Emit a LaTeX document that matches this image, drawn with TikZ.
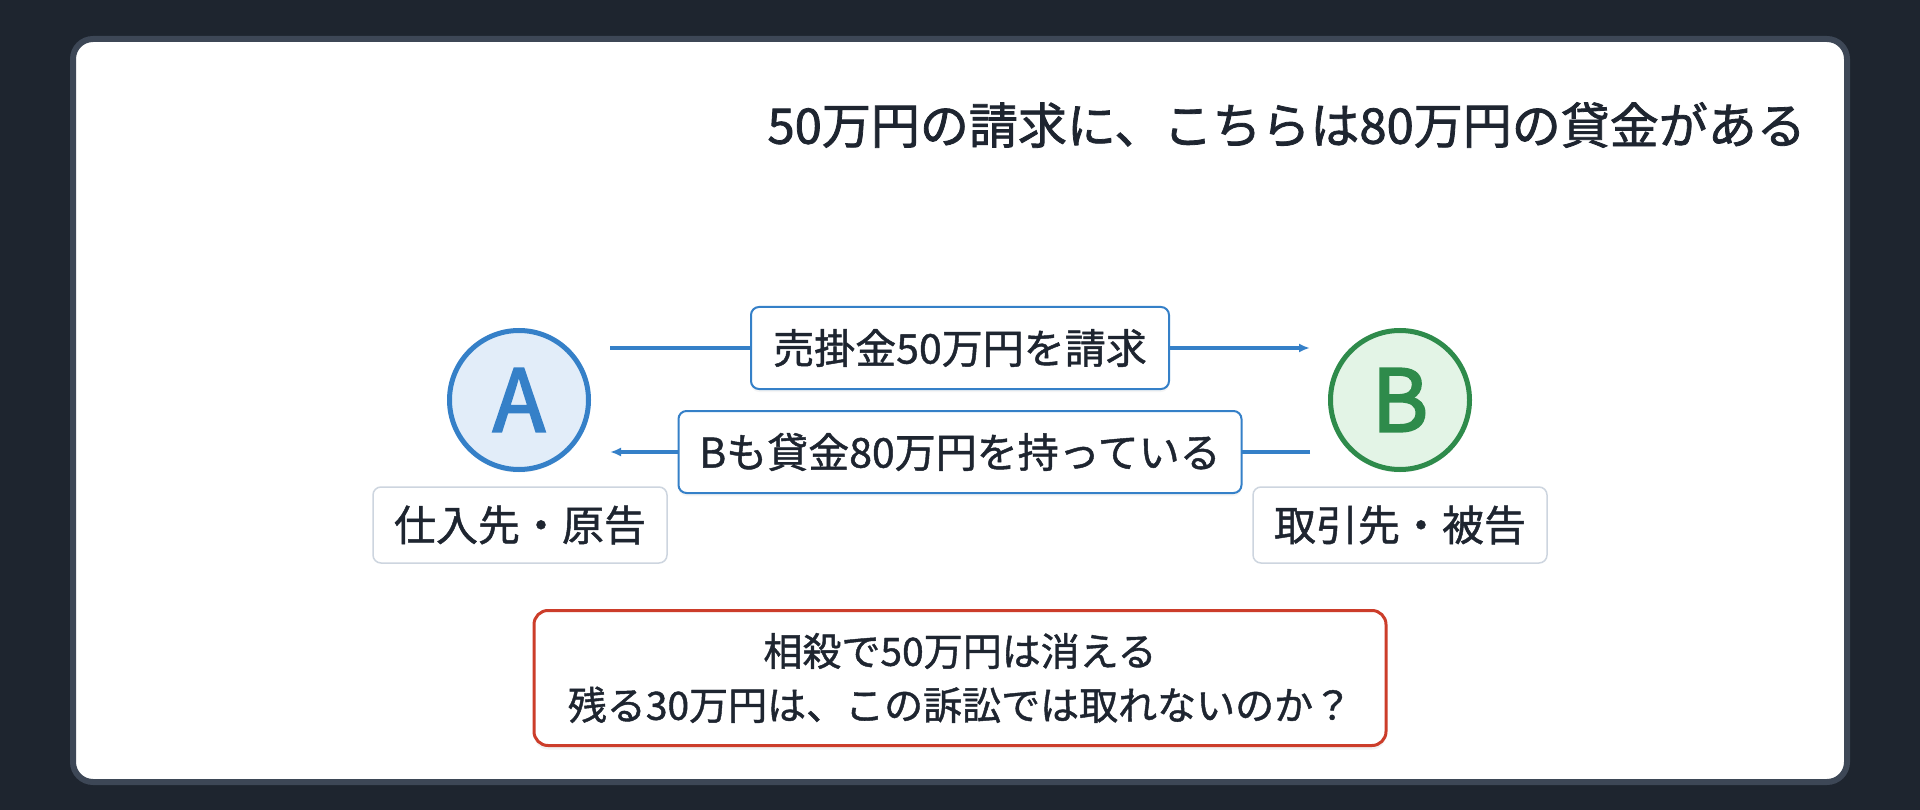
\documentclass[tikz,border=0pt]{standalone}
\usepackage{fontspec}
\setmainfont{Noto Sans CJK JP}[FakeBold=1.1]
\newfontfamily\heavy{Noto Sans CJK JP}[FakeBold=1.6]
\newfontfamily\letter{Noto Sans CJK JP}[FakeBold=2.6]
\usetikzlibrary{arrows.meta,shadows}
\definecolor{bgc}{HTML}{1E252F}
\definecolor{cardb}{HTML}{3D4756}
\definecolor{bluec}{HTML}{3580C8}
\definecolor{afill}{HTML}{E2EDF9}
\definecolor{greenc}{HTML}{2E8B4B}
\definecolor{bfill}{HTML}{E3F4E6}
\definecolor{redc}{HTML}{CC3D2A}
\definecolor{grayb}{HTML}{CDD5DF}
\definecolor{txt}{HTML}{1E2530}
\tikzset{
  party/.style={circle, inner sep=0pt, minimum size=139pt, line width=5pt,
    font=\letter\fontsize{86}{86}\selectfont, drop shadow={opacity=0.10, shadow xshift=0pt, shadow yshift=-3pt}},
  rolebox/.style={draw=grayb, line width=1.5pt, rounded corners=8pt, fill=white,
    minimum width=294pt, minimum height=76pt, inner sep=0pt, text=txt,
    font=\fontsize{42}{42}\selectfont},
  flowbox/.style={draw=bluec, line width=2pt, rounded corners=8pt, fill=white,
    minimum height=82pt, inner sep=0pt, text=txt,
    font=\fontsize{41}{41}\selectfont, drop shadow={opacity=0.08, shadow xshift=0pt, shadow yshift=-3pt}},
  flow/.style={draw=bluec, line width=3.5pt, -{Latex[length=11pt,width=9pt]}},
  notebox/.style={draw=redc, line width=3pt, rounded corners=14pt, fill=white,
    minimum width=852pt, minimum height=135pt, inner sep=0pt, text=txt, align=center,
    font=\fontsize{39}{54}\selectfont, drop shadow={opacity=0.10, shadow xshift=0pt, shadow yshift=-4pt}},
}
\begin{document}
\begin{tikzpicture}[x=1pt,y=-1pt]
\fill[bgc] (0,0) rectangle (1920,810);
\draw[cardb, line width=6pt, fill=white, rounded corners=20pt] (73,39) rectangle (1847,782);
\node[anchor=east, text=txt, inner sep=0pt, font=\heavy\fontsize{49}{49}\selectfont] (title) at (1806,125) {50万円の請求に、こちらは80万円の貸金がある};
\node[party, draw=bluec, fill=afill, text=bluec] (A) at (519,400) {A};
\node[party, draw=greenc, fill=bfill, text=greenc] (B) at (1400,400) {B};
\node[rolebox] (ra) at (520,525) {仕入先・原告};
\node[rolebox] (rb) at (1400,525) {取引先・被告};
\coordinate (a1) at (610,348);
\coordinate (b1) at (1310,348);
\coordinate (b2) at (1310,452);
\coordinate (a2) at (610,452);
\draw[flow] (a1) -- node[flowbox, minimum width=418pt] (claim) {売掛金50万円を請求} (b1);
\draw[flow] (b2) -- node[flowbox, minimum width=563pt] (loan) {Bも貸金80万円を持っている} (a2);
\node[notebox] (note) at (960,678) {相殺で50万円は消える\\残る30万円は、この訴訟では取れないのか？};
\end{tikzpicture}
\end{document}
